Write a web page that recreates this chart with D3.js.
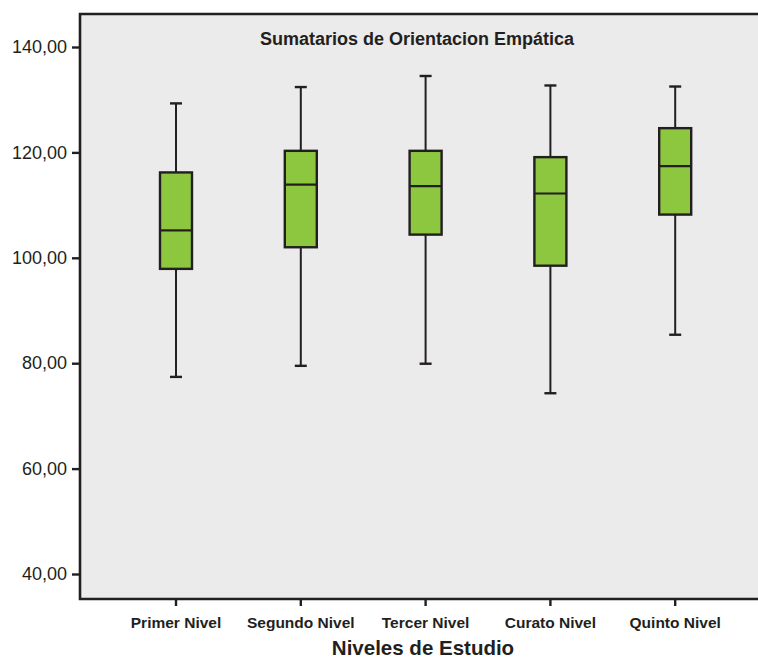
<!DOCTYPE html>
<html>
<head>
<meta charset="utf-8">
<script src="https://cdn.jsdelivr.net/npm/d3@7"></script>
<style>
    body { margin: 0; background: #fff; }
    svg { display: block; font-family: Arial, "Liberation Sans", sans-serif; }
</style>
</head>
<body>
<div id="chart"></div>
<script>
(function(d3) {
    'use strict';

    // data
    var categories = ['Primer Nivel', 'Segundo Nivel', 'Tercer Nivel', 'Curato Nivel', 'Quinto Nivel'];
    var whiskerLow = [77.4, 79.5, 79.9, 74.3, 85.4];
    var q1 = [97.9, 102.0, 104.4, 98.5, 108.2];
    var median = [105.2, 113.9, 113.6, 112.2, 117.4];
    var q3 = [116.2, 120.3, 120.3, 119.1, 124.6];
    var whiskerHigh = [129.3, 132.4, 134.5, 132.7, 132.5];
    var yTicks = [40, 60, 80, 100, 120, 140];

    var settings = {
        width: 758,
        height: 660,
        margin: { top: 14, right: 0, bottom: 61, left: 80 },
        boxWidth: 32,
        capWidth: 12,
        ink: '#231f20',
        fill: '#8dc63f',
        bg: '#ebebeb'
    };

    var w = settings.width - settings.margin.left - settings.margin.right;
    var h = settings.height - settings.margin.top - settings.margin.bottom;

    var boxes = categories.map(function(c, i) {
        return { cat: c, lo: whiskerLow[i], q1: q1[i], med: median[i], q3: q3[i], hi: whiskerHigh[i] };
    });

    var x = d3.scaleBand()
        .domain(categories)
        .range([33.6, 657.6]);

    var y = d3.scaleLinear()
        .domain([40, 140])
        .range([560, 33]);

    var svg = d3.select('#chart').append('svg')
        .attr('width', settings.width)
        .attr('height', settings.height);

    var g = svg.append('g')
        .attr('transform', 'translate(' + settings.margin.left + ',' + settings.margin.top + ')');

    g.append('rect')
        .attr('width', w)
        .attr('height', h)
        .attr('fill', settings.bg);

    // frame: top, left, bottom
    g.append('path')
        .attr('d', 'M' + w + ',0H0V' + h + 'H' + w)
        .attr('fill', 'none')
        .attr('stroke', settings.ink)
        .attr('stroke-width', 2.6);

    g.append('text')
        .attr('x', 337)
        .attr('y', 30.5)
        .attr('text-anchor', 'middle')
        .attr('font-size', '18px')
        .attr('font-weight', 'bold')
        .attr('fill', settings.ink)
        .text('Sumatarios de Orientacion Empática');

    var yAxis = g.append('g')
        .call(d3.axisLeft(y)
            .tickValues(yTicks)
            .tickSize(8)
            .tickPadding(5)
            .tickFormat(function(d) { return d3.format('.2f')(d).replace('.', ','); }));
    yAxis.select('.domain').remove();
    yAxis.selectAll('.tick line').attr('stroke', settings.ink).attr('stroke-width', 2.4);
    yAxis.selectAll('.tick text')
        .attr('font-size', '18px')
        .attr('font-family', 'Arial, "Liberation Sans", sans-serif')
        .attr('fill', settings.ink);

    var xAxis = g.append('g')
        .attr('transform', 'translate(0,' + h + ')')
        .call(d3.axisBottom(x).tickSize(7).tickPadding(11));
    xAxis.select('.domain').remove();
    xAxis.selectAll('.tick line').attr('stroke', settings.ink).attr('stroke-width', 2.4);
    xAxis.selectAll('.tick text')
        .attr('font-size', '15.5px')
        .attr('font-weight', 'bold')
        .attr('font-family', 'Arial, "Liberation Sans", sans-serif')
        .attr('fill', settings.ink);

    g.append('text')
        .attr('x', 343)
        .attr('y', h + 56)
        .attr('text-anchor', 'middle')
        .attr('font-size', '20.5px')
        .attr('font-weight', 'bold')
        .attr('fill', settings.ink)
        .text('Niveles de Estudio');

    var box = g.selectAll('.box')
        .data(boxes)
        .enter()
        .append('g')
        .attr('class', 'box')
        .attr('transform', function(d) {
            return 'translate(' + (x(d.cat) + x.bandwidth() / 2) + ',0)';
        });

    // whiskers
    box.append('line')
        .attr('y1', function(d) { return y(d.hi); })
        .attr('y2', function(d) { return y(d.lo); })
        .attr('stroke', settings.ink)
        .attr('stroke-width', 2);

    box.selectAll('.cap')
        .data(function(d) { return [d.lo, d.hi]; })
        .enter()
        .append('line')
        .attr('class', 'cap')
        .attr('x1', -settings.capWidth / 2)
        .attr('x2', settings.capWidth / 2)
        .attr('y1', function(v) { return y(v); })
        .attr('y2', function(v) { return y(v); })
        .attr('stroke', settings.ink)
        .attr('stroke-width', 2.4);

    box.append('rect')
        .attr('x', -settings.boxWidth / 2)
        .attr('width', settings.boxWidth)
        .attr('y', function(d) { return y(d.q3); })
        .attr('height', function(d) { return y(d.q1) - y(d.q3); })
        .attr('fill', settings.fill)
        .attr('stroke', settings.ink)
        .attr('stroke-width', 2.4);

    box.append('line')
        .attr('x1', -settings.boxWidth / 2)
        .attr('x2', settings.boxWidth / 2)
        .attr('y1', function(d) { return y(d.med); })
        .attr('y2', function(d) { return y(d.med); })
        .attr('stroke', settings.ink)
        .attr('stroke-width', 2.2);

})(window.d3);
</script>
</body>
</html>
